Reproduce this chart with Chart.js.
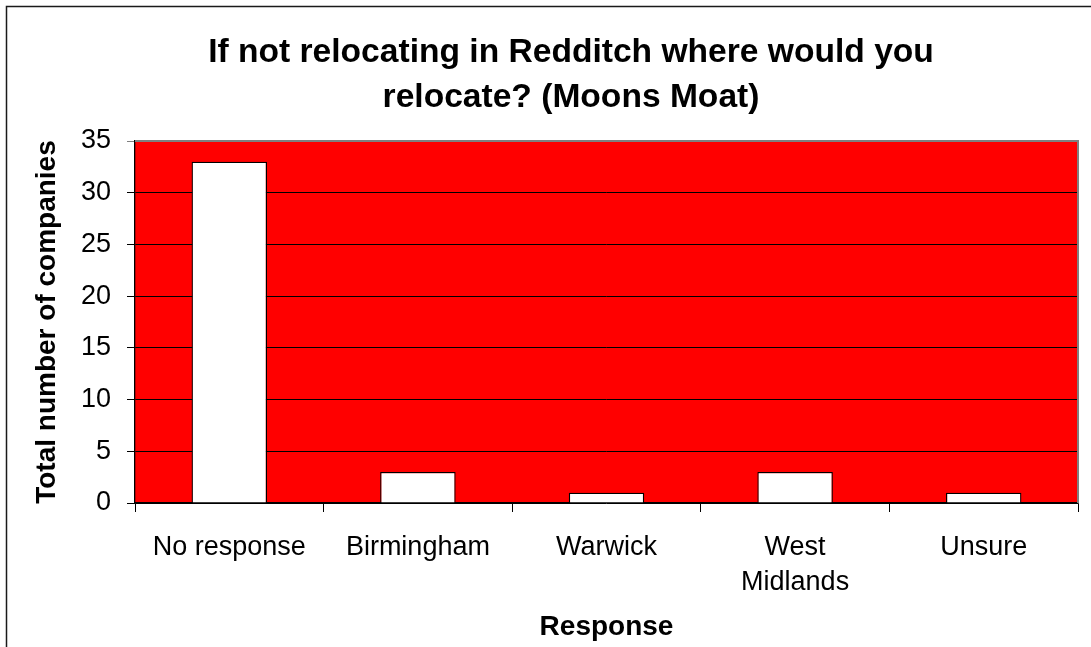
<!DOCTYPE html>
<html>
<head>
<meta charset="utf-8">
<script src="https://cdn.jsdelivr.net/npm/chart.js@4/dist/chart.umd.min.js"></script>
<style>
  html, body { margin: 0; padding: 0; background: #fff; overflow: hidden; }
  #wrap { width: 1091px; height: 647px; position: relative; }
</style>
</head>
<body>
<div id="wrap"><canvas id="zgchart" width="1091" height="647"></canvas></div>
<script>

var chartlabels = [["No response"], ["Birmingham"], ["Warwick"], ["West", "Midlands"], ["Unsure"]];
var companycounts = [33, 3, 1, 3, 1];
var titlelines = ["If not relocating in Redditch where would you", "relocate? (Moons Moat)"];
var yaxismax = 35;
var yaxisstep = 5;

Chart.defaults.font.family = "'Liberation Sans', Arial, sans-serif";
Chart.defaults.color = "#000";

//red plot area, gray frame, outer border and the title
var zgframe = {
  id: "zgframe",
  beforeDraw: function(chart) {
    var ctx = chart.ctx, a = chart.chartArea;
    ctx.save();
    ctx.fillStyle = "#ff0000";
    ctx.fillRect(a.left, a.top, a.right - a.left, a.bottom - a.top);
    ctx.restore();
  },
  afterDraw: function(chart) {
    var ctx = chart.ctx, a = chart.chartArea;
    ctx.save();
    ctx.strokeStyle = "#808080";
    ctx.lineWidth = 2;
    ctx.beginPath();
    ctx.moveTo(a.left, a.top);
    ctx.lineTo(a.right, a.top);
    ctx.lineTo(a.right, a.bottom);
    ctx.stroke();
    ctx.strokeStyle = "#1a1a1a";
    ctx.lineWidth = 1.5;
    ctx.strokeRect(6.5, 6.5, chart.width + 20, chart.height + 20);
    ctx.fillStyle = "#000";
    ctx.font = "bold 33.6px 'Liberation Sans', Arial, sans-serif";
    ctx.textAlign = "center";
    ctx.textBaseline = "middle";
    for (var t = 0; t < titlelines.length; t++) {
      ctx.fillText(titlelines[t], 571, 53 + t * 45);
    }
    ctx.restore();
  }
};

new Chart(document.getElementById("zgchart"), {
  type: "bar",
  data: {
    labels: chartlabels,
    datasets: [{
      data: companycounts,
      backgroundColor: "#ffffff",
      borderColor: "#000000",
      borderWidth: 1.3,
      barPercentage: 0.4,
      categoryPercentage: 1
    }]
  },
  options: {
    responsive: false,
    animation: false,
    layout: { padding: { left: 8, right: 13, top: 141, bottom: 0 } },
    plugins: { legend: { display: false }, tooltip: { enabled: false }, title: { display: false } },
    scales: {
      x: {
        offset: true,
        grid: { offset: true, drawOnChartArea: false, drawTicks: true, tickLength: 9, color: "#000", lineWidth: 1 },
        border: { color: "#000", width: 1.3 },
        ticks: { font: { size: 27, lineHeight: 1.3 }, color: "#000", padding: 18, maxRotation: 0, autoSkip: false },
        title: { display: true, text: "Response", font: { size: 28, weight: "bold" }, color: "#000", padding: { top: 0, bottom: 3 } },
        afterFit: function(scale) { scale.height = 144; }
      },
      y: {
        min: 0,
        max: yaxismax,
        grid: {
          color: function(c) { return c.tick && c.tick.value === yaxismax ? "#808080" : "#000"; },
          lineWidth: 1,
          tickLength: 8
        },
        border: { color: "#000", width: 1.3 },
        ticks: { stepSize: yaxisstep, font: { size: 27 }, color: "#000", padding: 16 },
        title: { display: true, text: "Total number of companies", font: { size: 28, weight: "bold" }, color: "#000", padding: { top: 22, bottom: 0 } },
        afterFit: function(scale) { scale.width = 127; }
      }
    }
  },
  plugins: [zgframe]
});

</script>
</body>
</html>
